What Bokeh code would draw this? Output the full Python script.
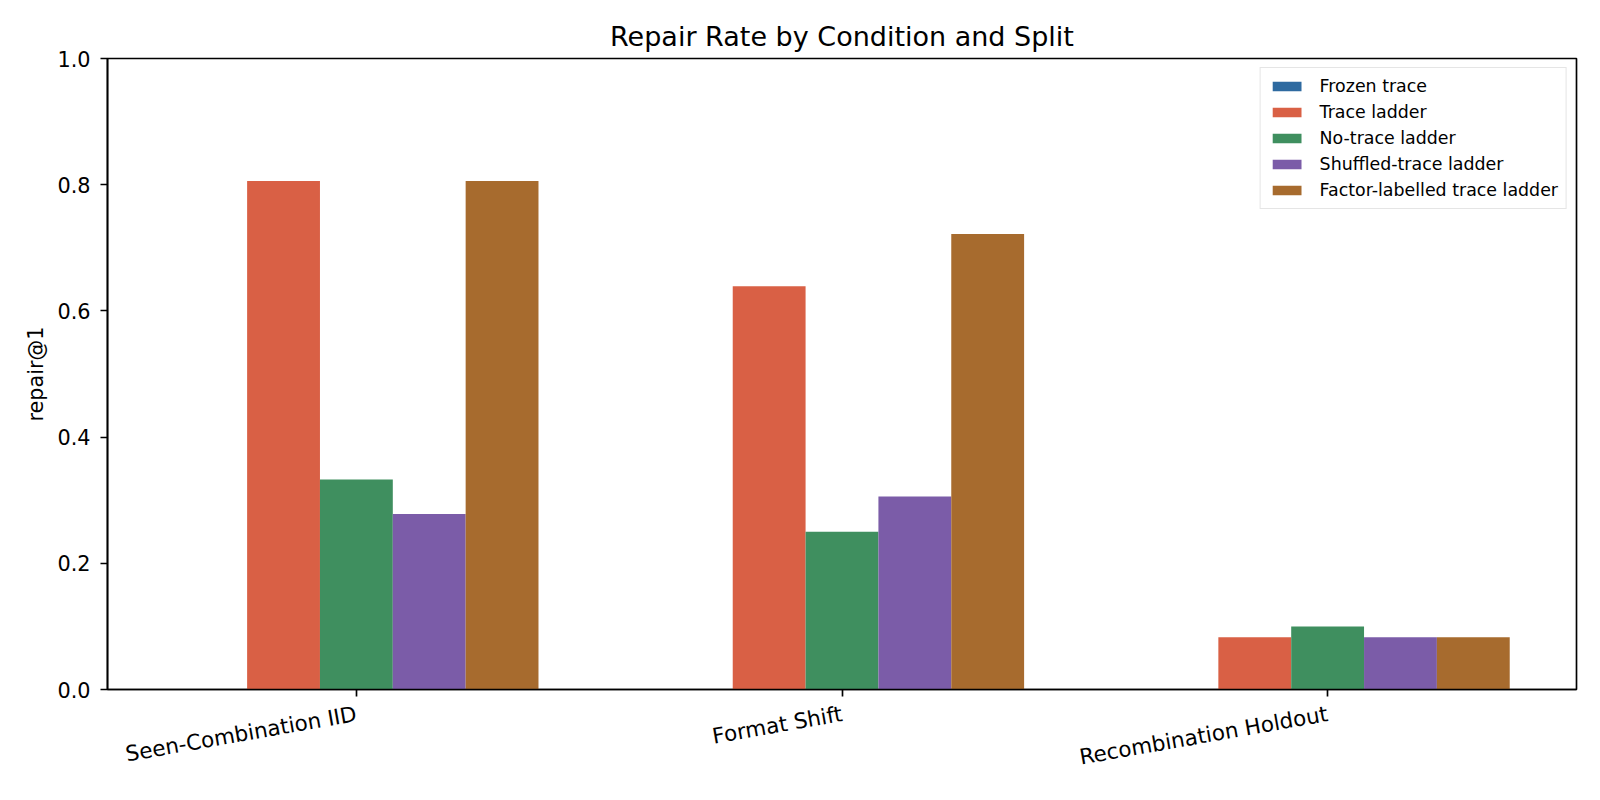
import math
import numpy as np
from bokeh.plotting import figure
from bokeh.models import (Range1d, FixedTicker, Legend, LegendItem,
                          ColumnDataSource, PrintfTickFormatter)
from bokeh.embed import file_html
from bokeh.resources import INLINE

# ---- data ----
splits = ["Seen-Combination IID", "Format Shift", "Recombination Holdout"]
conditions = ["Frozen trace", "Trace ladder", "No-trace ladder",
              "Shuffled-trace ladder", "Factor-labelled trace ladder"]
frozen_trace = [0.0, 0.0, 0.0]
trace_ladder = [0.806, 0.639, 0.083]
no_trace_ladder = [0.333, 0.250, 0.100]
shuffled_trace_ladder = [0.278, 0.306, 0.083]
factor_labelled_trace_ladder = [0.806, 0.722, 0.083]
y_ticks = [0.0, 0.2, 0.4, 0.6, 0.8, 1.0]

colors = ["#2e6aa0", "#d96045", "#3f8f5f", "#7b5ca8", "#a76b2e"]
series = [frozen_trace, trace_ladder, no_trace_ladder,
          shuffled_trace_ladder, factor_labelled_trace_ladder]

FONT = "DejaVu Sans"
BAR_W = 0.15
n = len(conditions)
x_base = np.arange(len(splits), dtype=float)
offsets = (np.arange(n) - (n - 1) / 2) * BAR_W
lo = x_base[0] + offsets[0] - BAR_W / 2
hi = x_base[-1] + offsets[-1] + BAR_W / 2
pad = 0.05 * (hi - lo)

p = figure(width=1584, height=784, output_backend="svg", toolbar_location=None,
           x_range=Range1d(lo - pad, hi + pad), y_range=Range1d(0, 1),
           min_border_left=107, min_border_right=8, min_border_top=58,
           min_border_bottom=94, title="Repair Rate by Condition and Split")

items = []
for i, (name, vals) in enumerate(zip(conditions, series)):
    src = ColumnDataSource(dict(x=x_base + offsets[i], top=vals))
    r = p.vbar(x="x", top="top", width=BAR_W, bottom=0, source=src,
               fill_color=colors[i], line_color=None)
    items.append(LegendItem(label=name, renderers=[r]))

legend = Legend(items=items, location="top_right")
legend.label_text_font = FONT
legend.label_text_font_size = "17.4px"
legend.label_text_color = "black"
legend.glyph_width = 36
legend.glyph_height = 12
legend.label_standoff = 15
legend.label_height = 20
legend.spacing = 6
legend.padding = 8
legend.margin = 9
legend.border_line_color = "#cccccc"
legend.border_line_width = 1
legend.background_fill_alpha = 0.8
p.add_layout(legend)

p.title.text_font = FONT
p.title.text_font_size = "27px"
p.title.text_font_style = "normal"
p.title.align = "center"
p.title.text_color = "black"
p.title.standoff = 14

p.xgrid.visible = False
p.ygrid.visible = False
p.outline_line_color = "black"
p.outline_line_width = 1.67
p.outline_line_alpha = 1

xa = p.xaxis[0]
xa.ticker = FixedTicker(ticks=list(x_base))
xa.major_label_overrides = {i: s for i, s in enumerate(splits)}
xa.major_label_orientation = math.radians(10)
xa.major_label_text_font = FONT
xa.major_label_text_font_size = "21.5px"
xa.major_label_text_color = "black"
xa.major_label_standoff = 17
xa.major_tick_out = 7
xa.major_tick_in = 0
xa.minor_tick_out = 0
xa.axis_line_width = 1.67
xa.major_tick_line_width = 1.67
xa.axis_line_color = "black"
xa.major_tick_line_color = "black"

ya = p.yaxis[0]
ya.ticker = FixedTicker(ticks=y_ticks)
ya.formatter = PrintfTickFormatter(format="%.1f")
ya.major_label_text_font = FONT
ya.major_label_text_font_size = "20.8px"
ya.major_label_text_color = "black"
ya.major_label_standoff = 10
ya.major_tick_out = 7
ya.major_tick_in = 0
ya.minor_tick_out = 0
ya.minor_tick_in = 0
ya.axis_line_width = 1.67
ya.major_tick_line_width = 1.67
ya.axis_line_color = "black"
ya.major_tick_line_color = "black"
ya.axis_label = "repair@1"
ya.axis_label_text_font = FONT
ya.axis_label_text_font_size = "20.8px"
ya.axis_label_text_font_style = "normal"
ya.axis_label_text_color = "black"
ya.axis_label_standoff = 6

open("out.html", "w").write(file_html(p, INLINE))
